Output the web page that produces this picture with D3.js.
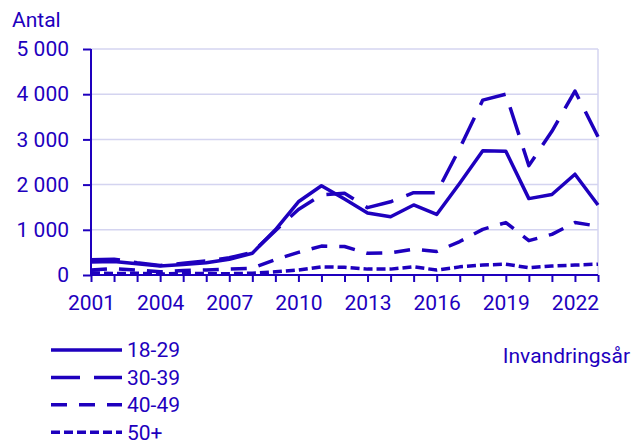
<!DOCTYPE html>
<html>
<head>
<meta charset="utf-8">
<script src="https://cdn.jsdelivr.net/npm/d3@7"></script>
<style>
  body { margin: 0; background: #fff; }
  text { font-family: Roboto, "Noto Sans", sans-serif; fill: #1e00be; }
</style>
</head>
<body>
<div id="chart"></div>
<script>
const years = d3.range(2001, 2024);
const yearLabels = [2001, 2004, 2007, 2010, 2013, 2016, 2019, 2022];
const yTicks = [0, 1000, 2000, 3000, 4000, 5000];
const yTickLabels = ["0", "1 000", "2 000", "3 000", "4 000", "5 000"];

const age18_29 = [290, 300, 250, 200, 230, 270, 350, 480, 1000, 1620, 1975, 1680, 1370, 1290, 1550, 1340, 2030, 2750, 2740, 1690, 1780, 2230, 1550];
const age30_39 = [340, 350, 270, 210, 260, 310, 380, 500, 980, 1450, 1770, 1810, 1490, 1620, 1820, 1820, 2800, 3870, 4000, 2420, 3180, 4070, 3060];
const age40_49 = [110, 140, 110, 70, 100, 110, 130, 150, 340, 500, 640, 630, 480, 490, 570, 520, 740, 1010, 1160, 760, 900, 1160, 1080];
const age50 = [50, 30, 40, 20, 40, 30, 30, 40, 70, 110, 180, 170, 130, 130, 180, 110, 180, 220, 240, 160, 200, 220, 240];

const seriesNames = ["18-29", "30-39", "40-49", "50+"];
const seriesValues = [age18_29, age30_39, age40_49, age50];
const dashes = [null, "29,14", "16,12", "9,4"];

const color = "#1e00be";
const gridColor = "#d4d4f0";
const fontSize = 21;

const svg = d3.select("#chart").append("svg")
    .attr("width", 632)
    .attr("height", 445);

const x = d3.scalePoint().domain(years).range([91, 598]);
const y = d3.scaleLinear().domain([0, 5000]).range([275, 49]);

// gridlines
svg.append("g").selectAll("line")
    .data(yTicks.filter(d => d > 0))
    .enter().append("line")
    .attr("x1", 91).attr("x2", 598)
    .attr("y1", d => y(d)).attr("y2", d => y(d))
    .attr("stroke", gridColor).attr("stroke-width", 1.5);

svg.append("line")
    .attr("x1", 598).attr("x2", 598)
    .attr("y1", y(5000)).attr("y2", y(0))
    .attr("stroke", gridColor).attr("stroke-width", 1.5);

// y axis
const yAxis = svg.append("g").attr("transform", "translate(91,0)")
    .call(d3.axisLeft(y).tickValues(yTicks).tickSize(8)
        .tickFormat((d, i) => yTickLabels[i]).tickPadding(14));
yAxis.select(".domain").attr("stroke", color).attr("stroke-width", 2).attr("d", `M0,${y(5000)}V${y(0)}`);
yAxis.selectAll(".tick line").attr("stroke", color).attr("stroke-width", 2);
yAxis.selectAll("text").attr("font-size", fontSize).attr("fill", color)
    .style("font-family", "Roboto");

// x axis
const xAxis = svg.append("g").attr("transform", "translate(0,275)")
    .call(d3.axisBottom(x).tickSize(7)
        .tickFormat(d => yearLabels.includes(d) ? d : "").tickPadding(13));
xAxis.select(".domain").attr("stroke", color).attr("stroke-width", 2).attr("d", "M91,0H598");
xAxis.selectAll(".tick line").attr("stroke", color).attr("stroke-width", 2);
xAxis.selectAll("text").attr("font-size", fontSize).attr("fill", color)
    .style("font-family", "Roboto");

svg.append("text")
    .attr("x", 12).attr("y", 27)
    .attr("font-size", fontSize)
    .text("Antal");

// lines
const line = d3.line()
    .x((d, i) => x(years[i]))
    .y(d => y(d));

svg.append("g").selectAll("path")
    .data(seriesValues)
    .enter().append("path")
    .attr("d", d => line(d))
    .attr("fill", "none")
    .attr("stroke", color)
    .attr("stroke-width", 3.5)
    .attr("stroke-linejoin", "round")
    .attr("stroke-dasharray", (d, i) => dashes[i]);

// legend
const legend = svg.append("g").selectAll("g")
    .data(seriesNames)
    .enter().append("g")
    .attr("transform", (d, i) => `translate(51, ${350 + i * 27.4})`);

legend.append("line")
    .attr("x1", 0).attr("x2", 71)
    .attr("stroke", color)
    .attr("stroke-width", 3.5)
    .attr("stroke-dasharray", (d, i) => dashes[i]);

legend.append("text")
    .attr("x", 76).attr("dy", "0.35em")
    .attr("font-size", fontSize)
    .text(d => d);

svg.append("text")
    .attr("x", 630).attr("y", 363)
    .attr("text-anchor", "end")
    .attr("font-size", fontSize)
    .text("Invandringsår");
</script>
</body>
</html>
